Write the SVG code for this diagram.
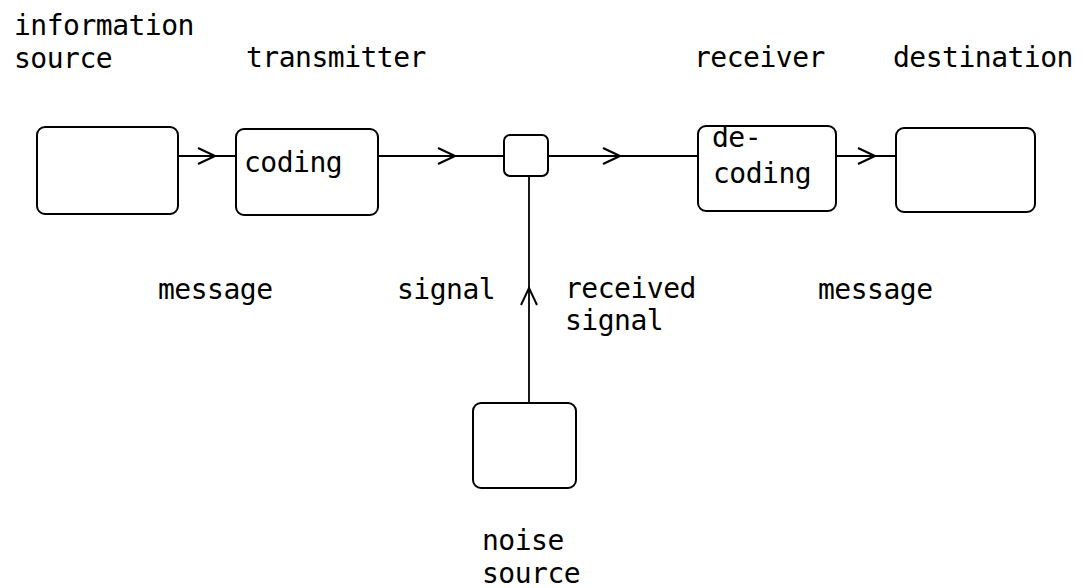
<svg xmlns="http://www.w3.org/2000/svg" width="1085" height="588" viewBox="0 0 1085 588">
<defs>
<style>
.box{fill:#fff;stroke:#000;stroke-width:2}
.lbl{font-family:"DejaVu Sans Mono","Liberation Mono",monospace;font-size:28px;letter-spacing:-0.5px;fill:#000}
.con{fill:none;stroke:#000;stroke-width:1.8}
</style>
<marker id="chev" viewBox="0 0 20 20" refX="18" refY="10" markerWidth="20" markerHeight="20" markerUnits="userSpaceOnUse" orient="auto">
<path d="M1,2 L18,10 L1,18" fill="none" stroke="#000" stroke-width="2"/>
</marker>
</defs>
<rect width="1085" height="588" fill="#fff"/>
<g id="connectors">
<path class="con" d="M178 156 L215 156 L236 156" marker-mid="url(#chev)"/>
<path class="con" d="M378 156 L455 156 L504 156" marker-mid="url(#chev)"/>
<path class="con" d="M548 156 L620 156 L698 156" marker-mid="url(#chev)"/>
<path class="con" d="M836 156 L875 156 L896 156" marker-mid="url(#chev)"/>
<path class="con" d="M529 403 L529 288 L529 176" marker-mid="url(#chev)"/>
</g>
<g id="information-source">
<rect class="box" x="37" y="127" width="141" height="87" rx="8"/>
<text class="lbl" x="14" y="35">information</text>
<text class="lbl" x="14" y="68">source</text>
</g>
<g id="transmitter">
<rect class="box" x="236" y="129" width="142" height="86" rx="8"/>
<text class="lbl" x="246" y="67">transmitter</text>
<text class="lbl" x="244" y="172">coding</text>
</g>
<g id="channel">
<rect class="box" x="504" y="135" width="44" height="41" rx="6"/>
</g>
<g id="receiver">
<rect class="box" x="698" y="126" width="138" height="85" rx="8"/>
<text class="lbl" x="694" y="67">receiver</text>
<text class="lbl" x="712" y="147">de-</text>
<text class="lbl" x="713" y="183">coding</text>
</g>
<g id="destination">
<rect class="box" x="896" y="128" width="139" height="84" rx="8"/>
<text class="lbl" x="893" y="67">destination</text>
</g>
<g id="noise-source">
<rect class="box" x="473" y="403" width="103" height="85" rx="8"/>
<text class="lbl" x="482" y="550">noise</text>
<text class="lbl" x="482" y="583">source</text>
</g>
<g id="labels">
<text class="lbl" x="158" y="299">message</text>
<text class="lbl" x="397" y="299">signal</text>
<text class="lbl" x="565" y="298">received</text>
<text class="lbl" x="565" y="330">signal</text>
<text class="lbl" x="818" y="299">message</text>
</g>
</svg>
